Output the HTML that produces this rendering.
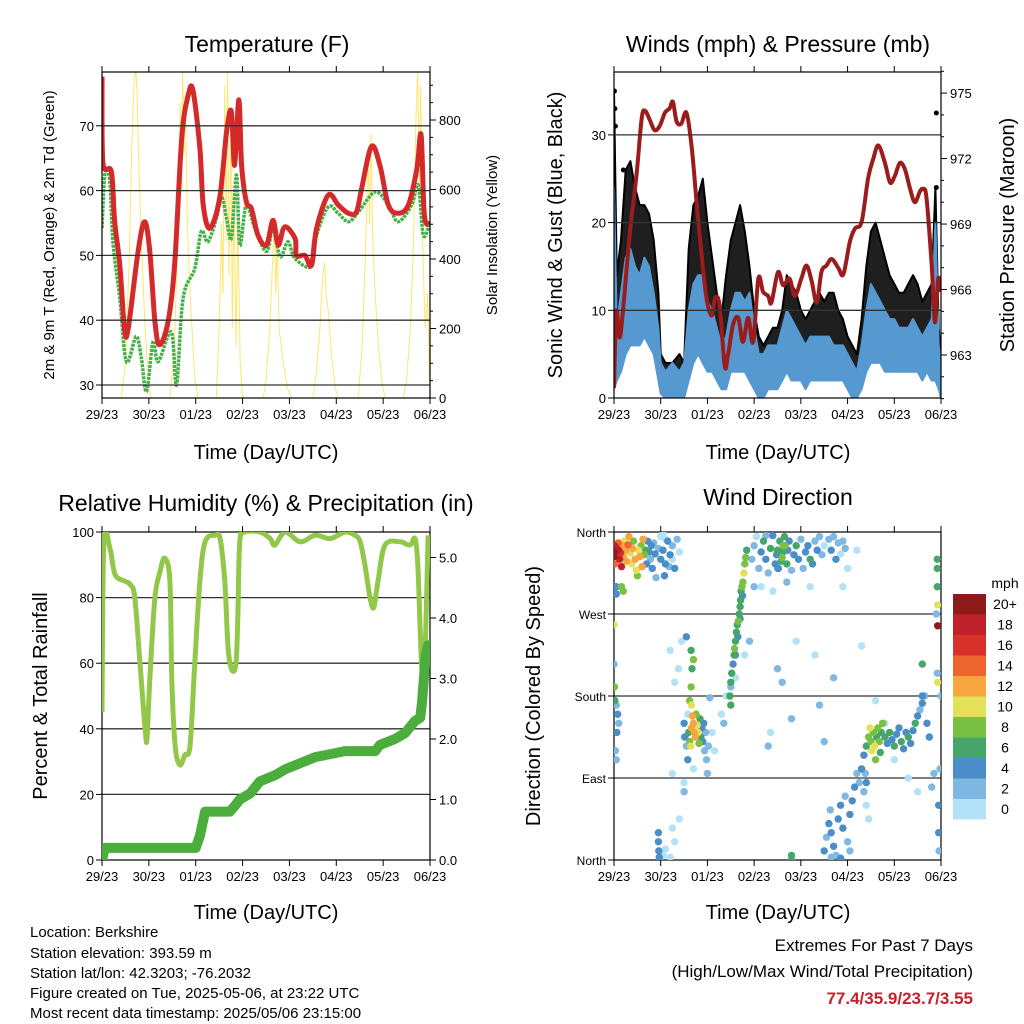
<!DOCTYPE html>
<html><head><meta charset="utf-8"><style>
html,body{margin:0;padding:0;background:#fff;}
svg{display:block;font-family:"Liberation Sans",sans-serif;}
</style></head><body>
<svg id="s" width="1024" height="1024" viewBox="0 0 1024 1024" xmlns="http://www.w3.org/2000/svg">
<defs>
<clipPath id="c1"><rect x="102" y="72" width="328" height="326"/></clipPath>
<clipPath id="c2"><rect x="614" y="72" width="327" height="326"/></clipPath>
<clipPath id="c3"><rect x="102" y="532" width="328" height="328"/></clipPath>
<clipPath id="c4"><rect x="614" y="532" width="327" height="328"/></clipPath>
</defs>
<text x="267" y="52" font-size="23" text-anchor="middle">Temperature (F)</text>
<text x="778" y="52" font-size="23" text-anchor="middle">Winds (mph) &amp; Pressure (mb)</text>
<text x="266" y="511" font-size="23" text-anchor="middle">Relative Humidity (%) &amp; Precipitation (in)</text>
<text x="778" y="505" font-size="23" text-anchor="middle">Wind Direction</text>
<text transform="translate(54,235) rotate(-90)" font-size="15" text-anchor="middle">2m &amp; 9m T (Red, Orange) &amp; 2m Td (Green)</text>
<text transform="translate(497,235) rotate(-90)" font-size="15" text-anchor="middle">Solar Insolation (Yellow)</text>
<text transform="translate(562,235) rotate(-90)" font-size="20" text-anchor="middle">Sonic Wind &amp; Gust (Blue, Black)</text>
<text transform="translate(1014,235) rotate(-90)" font-size="20" text-anchor="middle">Station Pressure (Maroon)</text>
<text transform="translate(47,696) rotate(-90)" font-size="20" text-anchor="middle">Percent &amp; Total Rainfall</text>
<text transform="translate(540,696) rotate(-90)" font-size="20" text-anchor="middle">Direction (Colored By Speed)</text>
<text x="266" y="459" font-size="20" text-anchor="middle">Time (Day/UTC)</text>
<text x="778" y="459" font-size="20" text-anchor="middle">Time (Day/UTC)</text>
<text x="266" y="919" font-size="20" text-anchor="middle">Time (Day/UTC)</text>
<text x="778" y="919" font-size="20" text-anchor="middle">Time (Day/UTC)</text>
<g font-size="15">
<text x="30" y="937">Location: Berkshire</text>
<text x="30" y="958">Station elevation: 393.59 m</text>
<text x="30" y="978">Station lat/lon: 42.3203; -76.2032</text>
<text x="30" y="998">Figure created on Tue, 2025-05-06, at 23:22 UTC</text>
<text x="30" y="1018">Most recent data timestamp: 2025/05/06 23:15:00</text>
</g>
<text x="973" y="951" font-size="17" text-anchor="end">Extremes For Past 7 Days</text>
<text x="973" y="977" font-size="17" text-anchor="end">(High/Low/Max Wind/Total Precipitation)</text>
<text x="973" y="1004" font-size="17" font-weight="bold" fill="#c8202a" text-anchor="end">77.4/35.9/23.7/3.55</text>
<text x="1005" y="588" font-size="14" text-anchor="middle">mph</text>
</svg>
<script>
// ---------- data ----------
const dayLabels = ["29/23","30/23","01/23","02/23","03/23","04/23","05/23","06/23"];
const tempTime = [0,0.02,0.2,0.27,0.38,0.48,0.56,0.77,0.91,1.02,1.13,1.23,1.41,1.55,1.7,1.84,1.94,2.09,2.16,2.3,2.51,2.66,2.76,2.83,2.92,2.98,3.08,3.19,3.33,3.51,3.65,3.76,3.9,4.12,4.15,4.33,4.47,4.58,4.83,5.04,5.26,5.43,5.54,5.75,5.93,6.11,6.32,6.54,6.72,6.81,6.88,7.0];
const tempVals = [77.6,64.4,62.9,55.2,48.5,38.7,38.7,50.6,55.2,50.6,39.8,36.2,39.8,48.5,68,74.7,75.5,66.5,57.8,54.2,58.8,69.1,72.2,63.9,74,63.9,58.3,57.2,53.1,51.6,55.4,51.6,54.4,52.6,50,50,48.5,54.2,59.3,57.8,56.5,56.7,60.3,66.8,63.9,57.8,56.5,57.8,63.4,68.6,56.2,54.9];
const dewTime = [0,0.06,0.16,0.24,0.38,0.52,0.73,0.84,0.95,1.09,1.2,1.48,1.59,1.73,1.98,2.12,2.26,2.44,2.55,2.66,2.76,2.87,2.94,3.08,3.26,3.51,3.65,3.8,3.97,4.12,4.47,4.58,4.83,5.04,5.26,5.47,5.83,6.11,6.32,6.61,6.75,6.86,7.0];
const dewVals = [54.2,62.4,61.9,51.6,43.4,33.6,37.5,34.1,29,36.7,33.6,38.2,30,43.4,48,53.7,52.1,55.7,59,55.7,52.6,62.4,51.6,57.8,54.2,50.6,54.2,49.8,52.1,49.5,48.3,53.1,57.5,56.5,55.2,56.7,59.8,57.8,55.2,57.8,60.8,53.1,55.2];
const solarTime = [0,0.41,0.5,0.58,0.63,0.68,0.72,0.75,0.78,0.84,0.92,1.0,1.05,1.45,1.55,1.62,1.67,1.7,1.72,1.75,1.78,1.82,1.9,1.98,2.05,2.44,2.5,2.55,2.58,2.62,2.65,2.68,2.71,2.75,2.78,2.82,2.86,2.9,2.95,3.0,3.44,3.5,3.58,3.65,3.68,3.71,3.74,3.78,3.85,3.95,4.05,4.5,4.58,4.65,4.7,4.75,4.78,4.83,4.9,4.98,5.04,5.47,5.55,5.62,5.68,5.71,5.74,5.78,5.83,5.9,5.98,6.04,6.43,6.5,6.58,6.65,6.7,6.74,6.77,6.8,6.85,6.9,6.95,6.98,7.0];
const solarVals = [0,0,100,400,700,900,950,880,700,450,200,40,0,0,150,500,850,600,940,700,880,500,250,60,0,0,200,500,300,900,450,940,350,800,200,600,150,500,100,0,0,50,200,420,510,300,450,200,120,30,0,0,80,200,330,390,300,250,120,30,0,0,150,400,700,500,760,450,300,150,40,0,0,50,200,450,800,950,600,900,400,200,300,100,0];
const presTime = [0,0.05,0.12,0.19,0.34,0.48,0.59,0.66,0.76,0.87,0.98,1.09,1.19,1.26,1.34,1.44,1.55,1.66,1.76,1.87,1.98,2.09,2.16,2.26,2.37,2.44,2.55,2.66,2.76,2.87,2.98,3.09,3.19,3.3,3.37,3.51,3.62,3.76,3.87,4.01,4.12,4.23,4.34,4.44,4.55,4.66,4.8,4.91,5.05,5.16,5.3,5.44,5.55,5.66,5.8,5.91,6.01,6.12,6.23,6.34,6.44,6.55,6.62,6.69,6.8,6.87,6.94,7.0];
const presVals = [961.5,965,963.8,965,968.6,971.2,973.8,974.2,973.8,973.3,973.5,974.1,974.3,974.6,973.7,973.6,974.1,972.6,970.2,967.7,965.6,964.8,965.6,965.3,962.5,963,964.4,964.7,963.6,964.7,963.6,966.5,965.9,965.7,965.4,966.8,966.2,966.5,965.7,966.5,967.1,966.4,965.4,966.8,967.1,967.4,967,966.7,968.2,968.8,969.1,971.1,972,972.6,971.8,970.9,971.2,971.8,971.5,970.6,970,970.5,970.6,970.2,967.1,964.5,966.5,965.9];
const windTime = [0,0.06,0.15,0.25,0.35,0.45,0.55,0.65,0.75,0.85,0.95,1.0,1.1,1.25,1.4,1.5,1.6,1.7,1.8,1.9,2.0,2.1,2.2,2.3,2.4,2.5,2.6,2.7,2.8,2.9,3.0,3.1,3.2,3.3,3.4,3.5,3.6,3.7,3.8,3.9,4.0,4.1,4.2,4.3,4.4,4.5,4.6,4.7,4.8,4.9,5.0,5.1,5.2,5.3,5.4,5.5,5.6,5.7,5.8,5.9,6.0,6.1,6.2,6.3,6.4,6.5,6.6,6.7,6.8,6.88,6.95,7.0];
const windLo = [1,2,3,5,6,6,6,7,6,5,2,0.5,0,0,0,0,2,4,5,4,3,3,2,1,1,3,3,3,3,2,1,0,0,1,1,1,2,3,2,2,2,1,2,2,2,2,2,2,2,2,1,0,0,1,3,4,4,4,3,3,3,3,3,3,3,3,2,3,2,2,1,0];
const windHi = [24,8,12,16,17,15,14,16,15,12,8,4,3,4,3,4,10,13,14,14,11,10,8,6,7,10,12,12,11,12,8,5,5,6,6,6,8,10,9,8,7,6,7,7,7,7,7,6,6,6,5,4,3,6,10,13,12,11,10,9,9,8,8,8,9,8,7,8,9,20,6,4];
const gustLo = [2,3,6,9,10,9,10,10,9,7,4,2,1,1,1,1,5,8,8,7,6,5,4,2,3,5,6,6,5,4,3,1,1,2,2,3,4,5,5,4,3,3,3,4,4,4,4,4,3,3,2,1,1,2,5,7,7,7,6,6,5,5,5,5,5,5,4,5,4,4,2,1];
const gustHi = [35,14,18,26,27,24,22,22,21,18,12,5,4,4,5,4,17,22,23,25,20,16,12,9,14,18,20,22,19,15,10,7,6,7,8,8,10,14,13,12,10,9,10,11,12,11,12,12,10,9,7,6,5,9,15,19,20,18,16,14,13,12,12,13,14,13,11,12,13,24,8,5];
const gustOutTime = [0.01,0.02,0.03,0.2,6.9,6.9];
const gustOutVals = [35,33,31,26,32.5,24];
const rhTime = [0,0.04,0.17,0.28,0.49,0.6,0.7,0.81,0.92,0.96,1.02,1.13,1.24,1.34,1.45,1.49,1.56,1.66,1.77,1.88,1.98,2.09,2.2,2.41,2.52,2.62,2.69,2.77,2.86,2.9,2.94,3.05,3.37,3.59,3.69,3.91,4.23,4.55,4.87,5.19,5.4,5.51,5.61,5.72,5.8,5.89,6.04,6.36,6.57,6.68,6.74,6.79,6.83,6.89,6.96];
const rhVals = [45,97,95,87,85,84,80,60,40,37,55,80,88,92,85,55,35,29,32,35,60,85,97,99,98,85,65,58,60,75,97,100,100,98,96,100,97,99,98,100,99,97,90,80,77,85,96,97,96,98,90,70,58,62,99];
const precipTime = [0,0.06,2.0,2.09,2.2,2.73,2.84,2.94,3.16,3.37,3.69,3.91,4.23,4.55,4.87,5.19,5.83,5.93,6.25,6.47,6.68,6.79,6.83,6.87,6.91,6.96,7.0];
const precipVals = [0,0.2,0.2,0.4,0.8,0.8,0.9,1.0,1.1,1.3,1.4,1.5,1.6,1.7,1.75,1.8,1.8,1.9,2.0,2.1,2.3,2.35,2.6,3.0,3.4,3.55,3.55];
// wind direction points: day, direction (deg), speed (mph)
const dirDay = [0,0,0.01,0.02,0.05,0.07,0.09,0.1,0.12,0.14,0.16,0.18,0.2,0.22,0.25,0.27,0.3,0.32,0.35,0.38,0.4,0.42,0.45,0.48,0.5,0.52,0.55,0.58,0.6,0.62,0.65,0.68,0.7,0.72,0.75,0.78,0.8,0.82,0.85,0.88,0.9,0.95,1.0,1.05,1.1,1.25,0.05,0.05,0.16,0.2,
1.05,1.1,1.15,1.2,1.25,1.3,1.35,1.4,1.0,1.08,1.18,
0.01,0.02,0.05,0.08,0.1,0.06,0.03,0.05,0,0,0.95,0.95,0.96,0.97,0.98,1.05,1.1,1.2,1.25,1.3,1.4,
1.2,1.3,1.38,1.45,1.55,1.65,1.7,1.58,1.7,1.5,1.25,1.5,1.5,2.05,2.1,2.15,2.3,2.35,2.4,2.6,2.8,2.9,3.3,3.35,3.5,3.6,3.8,3.9,4.3,4.4,4.5,4.7,4.9,5.0,5.2,5.3,5.6,5.8,6.0,6.3,6.5,6.8,6.85,
1.5,1.52,1.55,1.58,1.6,1.62,1.64,1.66,1.68,1.7,1.72,1.74,1.76,1.78,1.8,1.82,1.84,1.86,1.88,1.9,1.92,1.94,1.96,1.98,2.0,2.02,1.62,1.65,1.67,1.66,
2.48,2.5,2.52,2.55,2.57,2.58,2.6,2.62,2.64,2.66,2.68,2.7,2.71,2.72,2.74,2.76,2.78,2.8,2.82,2.84,2.5,2.6,2.65,2.7,2.75,2.5,
2.95,3.0,3.05,3.1,3.15,3.2,3.25,3.3,3.35,3.4,3.45,3.5,3.55,3.6,3.62,3.65,3.7,3.72,3.75,3.8,3.85,3.9,3.95,4.0,4.05,4.1,4.15,4.2,4.25,4.3,4.35,4.4,4.45,4.5,4.6,3.0,3.15,3.4,3.7,4.2,3.25,3.5,
4.65,4.7,4.75,4.8,4.85,4.9,4.95,3.58,3.62,3.66,3.52,3.48,
4.5,4.55,4.6,4.63,4.65,4.7,4.75,4.8,4.85,4.9,4.95,5.0,5.05,5.1,5.15,5.2,5.25,5.3,5.35,5.4,5.45,4.65,4.85,5.05,
5.3,5.35,5.4,5.45,5.48,5.5,5.52,5.55,5.58,5.6,5.62,5.65,5.68,5.7,5.72,5.75,5.8,5.85,5.9,5.95,6.0,6.05,6.1,6.15,6.2,6.25,6.3,6.35,6.4,6.45,6.5,6.55,6.6,6.65,6.7,6.75,5.38,5.4,
6.92,6.92,6.92,6.93,6.93,6.9,6.92,6.93,6.6,6.6,6.95,6.95,6.96,6.98,7.0,3.8,3.8];
const dirDeg = [333,338,345,325,343,335,348,340,330,337,322,345,333,350,340,328,346,355,337,325,342,350,330,318,312,340,333,345,322,352,335,340,325,350,338,330,345,320,348,336,310,342,355,358,352,330,300,292,300,295,
340,325,350,335,345,320,352,338,330,312,322,
190,175,170,160,150,140,120,110,258,215,30,20,10,3,0,5,12,3,35,20,45,
230,195,210,240,245,230,220,160,100,135,95,75,85,178,140,120,160,150,180,200,225,240,125,140,210,195,155,240,225,170,130,200,300,320,340,235,175,150,110,90,75,80,95,
150,135,125,110,140,130,125,145,158,150,140,135,160,148,140,128,155,135,145,130,150,120,140,110,95,125,175,190,210,170,
180,195,205,215,225,232,240,250,258,262,270,278,285,295,300,305,315,325,332,340,170,225,245,265,290,190,
330,345,355,320,338,350,330,315,342,356,325,340,350,332,345,355,325,340,350,318,335,345,330,352,320,338,345,330,325,350,340,355,335,345,352,300,300,295,305,300,356,320,
340,355,330,348,336,350,342,328,338,345,320,335,
10,25,40,55,30,15,5,45,60,35,70,20,50,65,80,95,85,100,75,60,45,3,2,10,
100,115,125,135,145,130,120,140,125,110,135,145,130,118,140,150,135,128,140,132,125,138,145,130,122,140,135,128,142,150,158,165,172,180,150,135,95,85,
330,320,300,280,257,270,205,195,215,180,60,30,10,100,180,0,5];
const dirSpd = [20,20,19,14,16,17,15,18,18,17,18,13,12,11,13,12,14,12,10,11,12,9,13,10,9,11,12,8,12,12,8,6,4,5,4,3,5,4,3,4,2,3,1,1,0,1,4,4,8,9,
5,4,5,4,3,4,2,1,5,4,3,
9,6,3,4,3,4,2,3,10,2,4,4,4,4,3,1,1,1,0,0,0,
1,0,0,1,4,7,8,1,1,0,0,2,1,2,1,1,0,2,0,1,1,2,2,1,3,2,2,0,0,2,2,3,1,0,0,0,1,0,1,1,0,2,3,
4,4,3,4,7,9,10,12,12,13,12,13,9,11,10,8,7,6,5,4,4,3,3,2,2,2,8,8,7,10,
6,6,6,5,7,8,7,6,7,8,7,6,6,7,8,9,10,9,8,6,6,4,4,4,4,3,
3,2,1,2,5,6,4,3,7,5,4,6,7,8,8,7,6,5,4,3,5,6,4,3,3,4,5,6,4,3,4,3,2,1,2,2,1,1,2,1,2,3,
4,3,4,2,1,2,3,7,6,8,5,4,
4,3,4,3,5,4,3,4,5,4,3,2,4,5,4,3,2,3,2,1,1,3,4,2,
4,5,7,8,10,9,11,8,10,8,7,9,8,7,6,8,6,5,6,4,6,5,4,6,5,4,6,5,4,6,4,3,4,3,5,4,3,4,
6,7,6,11,20,3,2,10,6,4,4,4,3,2,2,7,7];
const speedLabels = ["20+","18","16","14","12","10","8","6","4","2","0"];
const speedColors = ["#8e1a1a","#c0202a","#d8312a","#ef6530","#f6a53f","#e5e059","#7ac143","#46a66a","#4a8dc7","#7fb8e2","#b3e1f7"];

// ---------- helpers ----------
const S = document.getElementById('s');
const NS = 'http://www.w3.org/2000/svg';
function mk(tag, attrs, parent){ const e=document.createElementNS(NS,tag); for(const k in attrs) e.setAttribute(k,attrs[k]); (parent||S).appendChild(e); return e; }
function txt(x,y,s,size,anchor,parent){ const e=mk('text',{x:x,y:y,'font-size':size,'text-anchor':anchor},parent); e.textContent=s; return e; }
function xs(L,R){ return d => L + d*(R-L)/7; }
function lin(v0,p0,v1,p1){ return v => p0 + (v-v0)*(p1-p0)/(v1-v0); }
function pathOf(ts,vs,fx,fy){ return ts.map((t,i)=>(i?'L':'M')+fx(t).toFixed(1)+','+fy(vs[i]).toFixed(1)).join(''); }
function smoothOf(ts,vs,fx,fy){
  const P=ts.map((t,i)=>[fx(t),fy(vs[i])]);
  let d='M'+P[0][0].toFixed(1)+','+P[0][1].toFixed(1);
  for(let i=0;i<P.length-1;i++){
    const p0=P[Math.max(0,i-1)],p1=P[i],p2=P[i+1],p3=P[Math.min(P.length-1,i+2)];
    const c1=[p1[0]+(p2[0]-p0[0])/6,p1[1]+(p2[1]-p0[1])/6];
    const c2=[p2[0]-(p3[0]-p1[0])/6,p2[1]-(p3[1]-p1[1])/6];
    d+='C'+c1[0].toFixed(1)+','+c1[1].toFixed(1)+' '+c2[0].toFixed(1)+','+c2[1].toFixed(1)+' '+p2[0].toFixed(1)+','+p2[1].toFixed(1);
  }
  return d;
}

const panels = [
 {id:'temperature',L:102,R:430,T:72,B:398},
 {id:'winds',L:614,R:941,T:72,B:398},
 {id:'humidity',L:102,R:430,T:532,B:860},
 {id:'direction',L:614,R:941,T:532,B:860}
];
const y1 = lin(30,385,70,125.8), yS = lin(0,398,800,120);
const y2 = lin(0,398,30,134.9), yP = lin(963,355,975,93.1);
const y3 = lin(0,860,100,532), yPr = lin(0,860,5,557.5);
const y4 = lin(0,860,360,532);

function frame(p, leftTicks, leftFy, leftLabels, rightTicks, rightFy, rightLabels, gridTicks, rightMinor, lsize){
  const g = mk('g',{});
  
  
  gridTicks.forEach(v=>{
    const y=leftFy(v);
    const l=mk('line',{x1:p.L,x2:p.R,y1:y,y2:y,stroke:'#333','stroke-width':1.3},g);
    
    
  });
  const fx = xs(p.L,p.R);
  dayLabels.forEach((s,i)=>{
    const x=fx(i);
    mk('line',{x1:x,x2:x,y1:p.B,y2:p.B+6,stroke:'#000'},g);
    mk('line',{x1:x,x2:x,y1:p.T,y2:p.T-6,stroke:'#000'},g);
    const t=txt(x,p.B+21,s,13,'middle',g);
    
    
  });
  leftTicks.forEach((v,i)=>{
    const y=leftFy(v);
    mk('line',{x1:p.L-6,x2:p.L,y1:y,y2:y,stroke:'#000'},g);
    const t=txt(p.L-8,y+5,leftLabels[i],lsize||13,'end',g);
    
    
  });
  rightTicks.forEach((v,i)=>{
    const y=rightFy(v);
    mk('line',{x1:p.R,x2:p.R+6,y1:y,y2:y,stroke:'#000'},g);
    if(rightLabels){
      const t=txt(p.R+9,y+5,rightLabels[i],13,'start',g);
      
      
    }
  });
  (rightMinor||[]).forEach(v=>{ const y=rightFy(v); mk('line',{x1:p.R,x2:p.R+3,y1:y,y2:y,stroke:'#000'},g); });
  const r=mk('rect',{x:p.L,y:p.T,width:p.R-p.L,height:p.B-p.T,fill:'none',stroke:'#000','stroke-width':1.2},g);
  
  
}

// ---------- panel 1: temperature ----------
(function(){
  const p=panels[0], fx=xs(p.L,p.R);
  const g=mk('g',{'clip-path':'url(#c1)'});
  
  
  const sol=mk('path',{d:pathOf(solarTime,solarVals,fx,yS),fill:'none',stroke:'#fde04a','stroke-width':1,'stroke-opacity':0.8},g);
  
  
  const dew=mk('path',{d:smoothOf(dewTime,dewVals,fx,y1),fill:'none',stroke:'#44b046','stroke-width':3.5,'stroke-linejoin':'round','stroke-dasharray':'3 1'},g);
  
  
  const tl=mk('path',{d:smoothOf(tempTime,tempVals,fx,y1),fill:'none',stroke:'#d42a2a','stroke-width':5,'stroke-linejoin':'round'},g);
  
  
  const minor=[]; for(let v=50; v<=900; v+=50) if(v%200) minor.push(v);
  frame(p,[30,40,50,60,70],y1,['30','40','50','60','70'],[0,200,400,600,800],yS,['0','200','400','600','800'],[30,40,50,60,70],minor);
})();

// ---------- panel 2: winds ----------
(function(){
  const p=panels[1], fx=xs(p.L,p.R);
  const g=mk('g',{'clip-path':'url(#c2)'});
  
  
  let d='M'+windTime.map((t,i)=>fx(t).toFixed(1)+','+y2(gustHi[i]).toFixed(1)).join('L');
  for(let i=windTime.length-1;i>=0;i--) d+='L'+fx(windTime[i]).toFixed(1)+','+y2(gustLo[i]).toFixed(1);
  const gb=mk('path',{d:d+'Z',fill:'#000','fill-opacity':0.88,stroke:'#000','stroke-width':2,'stroke-linejoin':'round'},g);
  
  
  gustOutTime.forEach((t,i)=>{
    const c=mk('circle',{cx:fx(t),cy:y2(gustOutVals[i]),r:2.5,fill:'#000'},g);
    
    
  });
  let d2='M'+windTime.map((t,i)=>fx(t).toFixed(1)+','+y2(windHi[i]).toFixed(1)).join('L');
  for(let i=windTime.length-1;i>=0;i--) d2+='L'+fx(windTime[i]).toFixed(1)+','+y2(windLo[i]).toFixed(1);
  const wb=mk('path',{d:d2+'Z',fill:'#5599d0',stroke:'#5599d0','stroke-width':2,'stroke-linejoin':'round'},g);
  
  
  const pl=mk('path',{d:smoothOf(presTime,presVals,fx,yP),fill:'none',stroke:'#9b1c1c','stroke-width':4,'stroke-linejoin':'round'},g);
  
  
  const minor=[]; for(let v=961; v<=976; v++) if((v-963)%3) minor.push(v);
  frame(p,[0,10,20,30],y2,['0','10','20','30'],[963,966,969,972,975],yP,['963','966','969','972','975'],[10,20,30],minor);
})();

// ---------- panel 3: humidity ----------
(function(){
  const p=panels[2], fx=xs(p.L,p.R);
  frame(p,[0,20,40,60,80,100],y3,['0','20','40','60','80','100'],[0,1,2,3,4,5],yPr,['0.0','1.0','2.0','3.0','4.0','5.0'],[20,40,60,80],[]);
  const g=mk('g',{'clip-path':'url(#c3)'});
  
  
  const rh=mk('path',{d:smoothOf(rhTime,rhVals,fx,y3),fill:'none',stroke:'#92c84a','stroke-width':5,'stroke-linejoin':'round'},g);
  
  
  const pr=mk('path',{d:pathOf(precipTime,precipVals,fx,yPr),fill:'none',stroke:'#4aad3c','stroke-width':10,'stroke-linejoin':'round','stroke-linecap':'round'},g);
  
  
})();

// ---------- panel 4: wind direction ----------
(function(){
  const p=panels[3], fx=xs(p.L,p.R);
  frame(p,[0,90,180,270,360],y4,['North','East','South','West','North'],[],y4,null,[90,180,270],[],12);
  const g=mk('g',{'clip-path':'url(#c4)'});
  
  
  const order = dirDay.map((d,i)=>i).sort((a,b)=>dirSpd[a]-dirSpd[b]);
  order.forEach(i=>{
    const bin = Math.min(10, Math.floor(dirSpd[i]/2));
    const c=mk('circle',{cx:fx(dirDay[i]).toFixed(1),cy:y4(dirDeg[i]).toFixed(1),r:3.7,fill:speedColors[10-bin]},g);
    
    
  });
  const lg=mk('g',{});
  
  
  speedLabels.forEach((s,i)=>{
    const y=594+i*20.5;
    const r=mk('rect',{x:953,y:y,width:33,height:20.5,fill:speedColors[i]},lg);
    
    
    const t=txt(1005,y+15,s,14,'middle',lg);
    
    
  });
})();
</script>
</body></html>
